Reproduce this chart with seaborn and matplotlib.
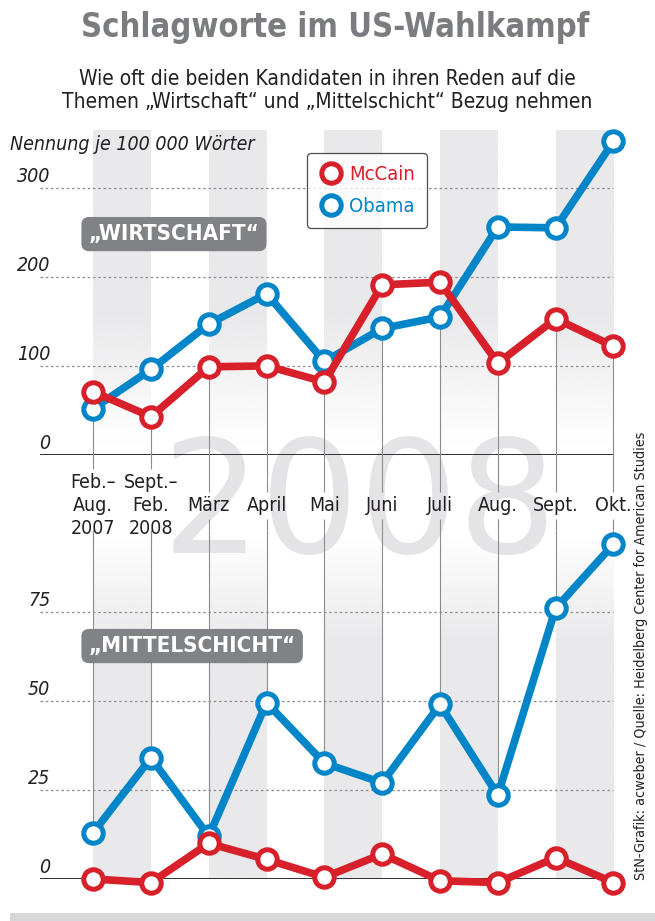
import numpy as np
import pandas as pd
import seaborn as sns
import matplotlib.pyplot as plt
from matplotlib.lines import Line2D

# -----------------------------
# DATA
# -----------------------------
categories = ["Feb.–\nAug.\n2007", "Sept.–\nFeb.\n2008", "März", "April", "Mai",
              "Juni", "Juli", "Aug.", "Sept.", "Okt."]
candidates = ["McCain", "Obama"]

wirtschaft_mccain = [71, 43, 99, 100, 82, 191, 194, 103, 153, 122]
wirtschaft_obama = [52, 96, 147, 181, 105, 142, 155, 256, 255, 352]

mittel_mccain = [0, -1, 10, 5.5, 0.5, 7, -0.5, -1, 6, -1]
mittel_obama = [13, 34, 12, 49.5, 32.5, 27, 49, 23.5, 76, 94]

ticks_top = [0, 100, 200, 300]
ticks_bottom = [0, 25, 50, 75]

# -----------------------------
# STYLE
# -----------------------------
sns.set_theme(style="white")
plt.rcParams["font.family"] = ["DejaVu Sans"]
plt.rcParams["font.stretch"] = "condensed"

RED = "#d7202a"
BLUE = "#0085c8"
GRID = "#8c8c8c"
BOXGREY = "#808285"
INK = "#231f20"
palette = {"McCain": RED, "Obama": BLUE}


def long_frame(mccain, obama):
    n = len(categories)
    return pd.DataFrame({
        "pos": list(range(n)) * 2,
        "wert": list(mccain) + list(obama),
        "kandidat": ["McCain"] * n + ["Obama"] * n,
    })


df_top = long_frame(wirtschaft_mccain, wirtschaft_obama)
df_bot = long_frame(mittel_mccain, mittel_obama)

fig = plt.figure(figsize=(6.55, 9.21), dpi=100)
XLIM = (-0.92, 9.05)
YLIM1 = (0, 365)
YLIM2 = (0, 98)
ax1 = fig.add_axes([0.061, 0.506, 0.880, 0.353])
ax2 = fig.add_axes([0.061, 0.0456, 0.880, 0.379])
ax1.set_ylim(*YLIM1)
ax2.set_ylim(*YLIM2)


def bands(ax, profile):
    # grey stripes behind every second column, faded by a vertical alpha profile
    y0, y1 = ax.get_ylim()
    yy = np.linspace(y0, y1, 200)
    rgba = np.zeros((200, 1, 4))
    rgba[..., :3] = np.array([233, 233, 235]) / 255
    rgba[:, 0, 3] = profile(yy)
    for i in range(0, len(categories) - 1, 2):
        ax.imshow(rgba, extent=[i, i + 1, y0, y1], origin="lower",
                  aspect="auto", zorder=0, interpolation="bilinear")


for ax in (ax1, ax2):
    ax.set_facecolor("none")
    for s in ax.spines.values():
        s.set_visible(False)
    ax.set_xticks([])
    ax.set_yticks([])

bands(ax1, lambda v: np.clip((v - 10) / 150, 0, 1))
bands(ax2, lambda v: np.clip((96 - v) / 30, 0, 1))

# 2008 watermark
ax1.text(4.6, -62, "2008", fontsize=112, color="#e4e4e6", ha="center",
         va="center", fontstretch="normal", zorder=0.5, clip_on=False)

# gridlines + baseline + tick labels
for ax, ticks in ((ax1, ticks_top), (ax2, ticks_bottom)):
    for t in ticks:
        if t == 0:
            ax.hlines(0, XLIM[0], 9, color=INK, lw=1.3, zorder=1)
        else:
            ax.hlines(t, XLIM[0], 9, color=GRID, lw=0.9,
                      linestyles=(0, (2, 2.2)), zorder=1)
        ax.text(-0.74, t + 2 if ax is ax1 else t + 0.6, str(t), ha="right",
                va="bottom", fontsize=14, style="italic", color=INK)

# month labels between the panels
labels = []
for i, lab in enumerate(categories):
    labels.append(ax1.text(i, -57, lab, ha="center", va="center",
                           fontsize=14, color=INK, linespacing=1.25,
                           zorder=3, clip_on=False))

# lines: Obama first, McCain on top
for ax, df in ((ax1, df_top), (ax2, df_bot)):
    for cand in ["Obama", "McCain"]:
        sns.lineplot(data=df[df["kandidat"] == cand], x="pos", y="wert",
                     color=palette[cand], lw=5.5, marker="o", markersize=14,
                     markerfacecolor="white", markeredgecolor=palette[cand],
                     markeredgewidth=3.6, ax=ax, zorder=4, clip_on=False,
                     legend=False)
    ax.set_xlabel("")
    ax.set_ylabel("")
    ax.set_xlim(*XLIM)
ax1.set_ylim(*YLIM1)
ax2.set_ylim(*YLIM2)

# vertical connector lines, broken around the month labels
fig.canvas.draw()
renderer = fig.canvas.get_renderer()
inv1 = ax1.transData.inverted()
ax2_top_in_ax1 = inv1.transform(ax2.transAxes.transform((0, 1)))[1]
for i, lab in enumerate(labels):
    bb = lab.get_window_extent(renderer)
    lab_top = inv1.transform((0, bb.y1 + 4))[1]
    lab_bot = inv1.transform((0, bb.y0 - 4))[1]
    top_min = min(wirtschaft_mccain[i], wirtschaft_obama[i])
    bot_max = max(mittel_mccain[i], mittel_obama[i])
    ax1.vlines(i, lab_top, top_min, color=GRID, lw=0.8, zorder=1.5,
               clip_on=False)
    ax1.vlines(i, ax2_top_in_ax1, lab_bot, color=GRID, lw=0.8, zorder=1.5,
               clip_on=False)
    ax2.vlines(i, bot_max, YLIM2[1], color=GRID, lw=0.8, zorder=1.5,
               clip_on=False)

# section boxes
box = dict(boxstyle="round,pad=0.32,rounding_size=0.35", facecolor=BOXGREY,
           edgecolor="none")
ax1.text(-0.08, 248, "„WIRTSCHAFT“", ha="left", va="center", fontsize=16,
         fontweight="bold", color="white", bbox=box, zorder=5)
ax2.text(-0.08, 65.4, "„MITTELSCHICHT“", ha="left", va="center", fontsize=16,
         fontweight="bold", color="white", bbox=box, zorder=5)

# legend
handles = [Line2D([], [], lw=0, marker="o", markersize=14,
                  markerfacecolor="white", markeredgecolor=palette[c],
                  markeredgewidth=3.6) for c in candidates]
leg = fig.legend(handles, candidates, loc="upper left",
                 bbox_to_anchor=(0.469, 0.834), borderaxespad=0,
                 frameon=True, fontsize=14.5, handletextpad=0.3,
                 borderpad=0.6, labelspacing=0.65, handlelength=1.2,
                 fancybox=True)
leg.get_frame().set_edgecolor(INK)
leg.get_frame().set_linewidth(0.9)
for txt, c in zip(leg.get_texts(), candidates):
    txt.set_color(palette[c])

# titles and notes
fig.text(0.511, 0.970, "Schlagworte im US-Wahlkampf", ha="center",
         va="center", fontsize=23.5, fontweight="bold", color="#7b7c7f")
fig.text(0.5, 0.902, "Wie oft die beiden Kandidaten in ihren Reden auf die\n"
         "Themen „Wirtschaft“ und „Mittelschicht“ Bezug nehmen",
         ha="center", va="center", fontsize=15, color=INK, linespacing=1.2)
fig.text(0.015, 0.843, "Nennung je 100 000 Wörter", ha="left", va="center",
         fontsize=14, style="italic", color=INK)
fig.text(0.979, 0.0445, "StN-Grafik: acweber / Quelle: Heidelberg Center "
         "for American Studies", rotation=90, rotation_mode="anchor",
         ha="left", va="center", fontsize=10.3, color=INK)

# bottom strip
fig.patches.append(plt.Rectangle((0.015, 0.0), 0.985, 0.0085,
                                 transform=fig.transFigure,
                                 facecolor="#d8d8da", edgecolor="none"))

fig.savefig("out.png", dpi=100)
